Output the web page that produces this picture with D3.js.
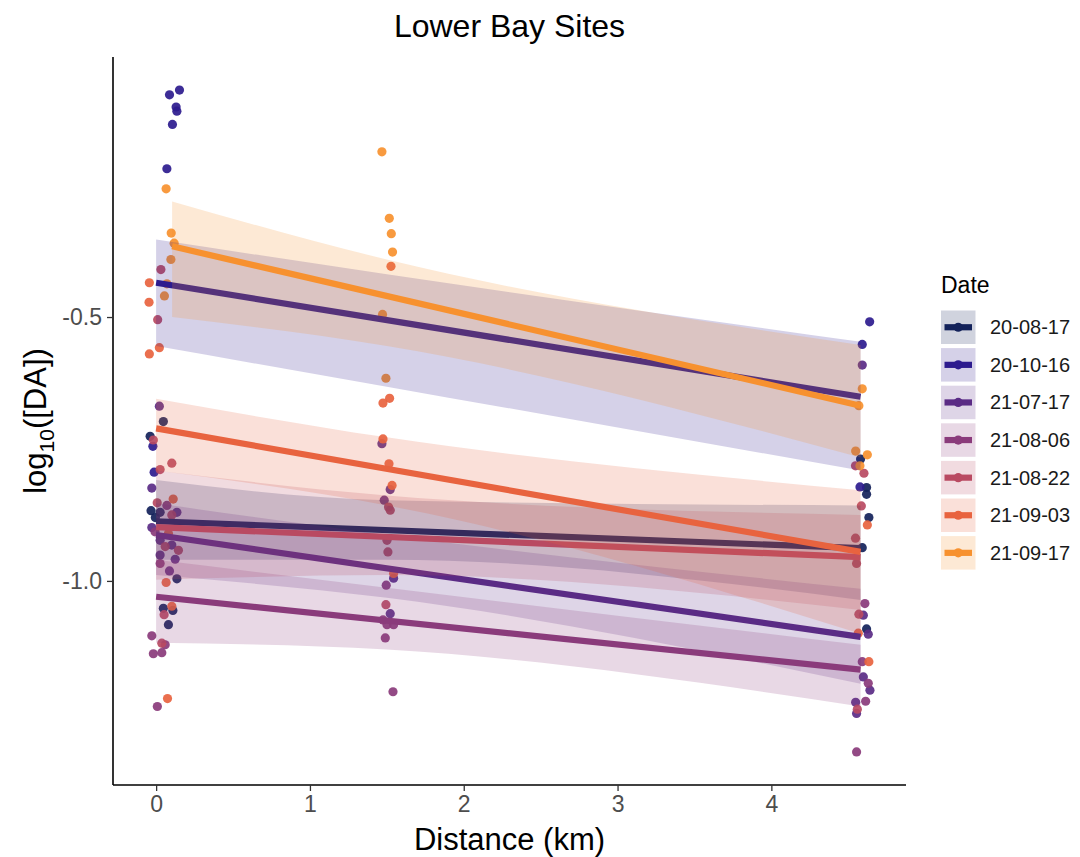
<!DOCTYPE html>
<html>
<head>
<meta charset="utf-8">
<script src="https://cdn.jsdelivr.net/npm/d3@7"></script>
<style>
  body { margin: 0; background: #fff; }
  svg { display: block; font-family: "Liberation Sans", Arial, Helvetica, sans-serif; }
</style>
</head>
<body>
<svg id="chart" width="1080" height="857"></svg>
<script>
// Sampling dates (legend order) and their colours
const dates  = ["20-08-17", "20-10-16", "21-07-17", "21-08-06", "21-08-22", "21-09-03", "21-09-17"];
const colors = ["#13225A", "#2D1B8E", "#5A2B85", "#8A3B7B", "#B94A62", "#E8633F", "#F7912F"];

// Jittered observations: [distance (km), log10([DA])]
const pts_20_08_17 = [[-0.039,-0.726],[0.047,-0.698],[-0.033,-0.867],[0.026,-0.870],[-0.005,-0.880],
  [0.135,-0.996],[0.047,-1.052],[0.109,-1.056],[0.080,-1.083],
  [4.580,-0.769],[4.619,-0.823],[4.619,-0.836],[4.634,-0.880],[4.591,-0.937],[4.619,-1.091]];
const pts_20_10_16 = [[0.087,-0.079],[0.152,-0.070],[0.130,-0.102],[0.135,-0.110],[0.106,-0.135],
  [0.070,-0.219],[-0.021,-0.745],[-0.013,-0.794],
  [4.639,-0.509],[4.591,-0.552],[4.576,-0.822]];
const pts_21_07_17 = [[0.021,-0.669],[-0.028,-0.824],[0.135,-0.870],[-0.028,-0.899],[0.026,-0.923],
  [0.102,-0.932],[0.026,-0.951],[0.124,-0.959],[0.087,-0.981],
  [1.468,-0.740],[1.522,-0.827],[1.483,-0.847],[1.544,-0.995],[1.522,-1.062],
  [4.591,-0.591],[4.598,-1.065],[4.630,-1.101],[4.598,-1.182],[4.641,-1.207],[4.548,-1.230],[4.554,-1.251]];
const pts_21_08_06 = [[0.070,-0.857],[-0.007,-0.907],[0.026,-0.967],[-0.028,-1.104],[0.059,-1.121],
  [-0.018,-1.138],[0.037,-1.136],[0.008,-1.238],
  [1.496,-1.008],[1.475,-1.074],[1.501,-1.083],[1.544,-1.083],[1.490,-1.108],[1.540,-1.210],
  [4.608,-1.043],[4.591,-1.153],[4.630,-1.194],[4.613,-1.228],[4.554,-1.324]];
const pts_21_08_22 = [[0.031,-0.410],[0.010,-0.505],[-0.018,-0.733],[0.102,-0.777],[0.026,-0.789],
  [0.007,-0.852],[0.102,-0.875],[0.059,-0.935],[0.145,-0.942],[0.052,-1.064],[0.037,-1.118],
  [1.511,-0.860],[1.522,-0.866],[1.501,-0.923],[1.507,-0.945],[1.494,-1.045],
  [4.547,-0.782],[4.602,-0.796],[4.585,-0.858],[4.547,-0.919],[4.554,-0.967],[4.569,-1.063],[4.559,-1.243]];
const pts_21_09_03 = [[-0.044,-0.435],[-0.046,-0.472],[0.021,-0.558],[-0.044,-0.570],[0.111,-0.845],
  [0.080,-0.910],[0.065,-1.003],[0.102,-1.048],[0.074,-1.223],
  [1.527,-0.404],[1.518,-0.654],[1.475,-0.663],[1.475,-0.731],[1.514,-0.778],[1.534,-0.819],[1.544,-0.986],
  [4.624,-0.894],[4.565,-1.099],[4.634,-1.153]];
const pts_21_09_17 = [[0.065,-0.257],[0.098,-0.341],[0.117,-0.360],[0.096,-0.391],[0.070,-0.437],[0.054,-0.460],
  [1.468,-0.187],[1.516,-0.313],[1.529,-0.342],[1.537,-0.377],[1.472,-0.495],[1.494,-0.616],
  [4.591,-0.636],[4.569,-0.668],[4.548,-0.754],[4.624,-0.761],[4.576,-0.782]];
const points = [pts_20_08_17, pts_20_10_16, pts_21_07_17, pts_21_08_06, pts_21_08_22, pts_21_09_03, pts_21_09_17];

// Linear fits per date: fitted value at first and last station
const fitStartX = [0, 0, 0, 0, 0, 0, 0.104];
const fitEndX   = [4.58, 4.58, 4.58, 4.58, 4.58, 4.58, 4.58];
const fitStartY = [-0.887, -0.435, -0.913, -1.030, -0.898, -0.711, -0.366];
const fitEndY   = [-0.938, -0.651, -1.106, -1.168, -0.955, -0.945, -0.668];

// 95% confidence band, sampled at first station, 1.5 km and last station
const bandMidX = 1.5;
const bandUpper = [[-0.809,-0.847,-0.857],[-0.353,-0.419,-0.547],[-0.853,-0.913,-1.015],[-0.960,-1.013,-1.121],
                   [-0.791,-0.838,-0.875],[-0.655,-0.728,-0.828],[-0.281,-0.391,-0.553]];
const bandLower = [[-0.960,-0.960,-1.036],[-0.555,-0.632,-0.791],[-0.989,-1.032,-1.195],[-1.117,-1.130,-1.238],
                   [-0.998,-0.989,-1.055],[-0.791,-0.857,-1.100],[-0.500,-0.555,-0.766]];

const xTicks = [0, 1, 2, 3, 4];
const yTicks = [-1.0, -0.5];

const panel = { left: 113, right: 906, top: 57, bottom: 785 };
const svg = d3.select("#chart");

// Scales expanded by 5% of the data range on each side
const allPts = points.flat();
const expand = ext => { const p = (ext[1] - ext[0]) * 0.05; return [ext[0] - p, ext[1] + p]; };
const yVals = allPts.map(d => d[1]).concat(bandUpper.flat(), bandLower.flat());
const x = d3.scaleLinear().domain(expand(d3.extent(allPts, d => d[0]))).range([panel.left, panel.right]);
const y = d3.scaleLinear().domain(expand(d3.extent(yVals))).range([panel.bottom, panel.top]);

// Points (drawn beneath the fitted lines and bands)
const gPts = svg.append("g");
points.forEach((series, i) => {
  gPts.selectAll(null).data(series).join("circle")
    .attr("cx", d => x(d[0])).attr("cy", d => y(d[1])).attr("r", 4.6)
    .attr("fill", colors[i]).attr("fill-opacity", 0.92);
});

// Confidence bands and fitted lines, one date at a time
const area = d3.area().x(d => x(d.x)).y0(d => y(d.lo)).y1(d => y(d.hi)).curve(d3.curveMonotoneX);
const gFit = svg.append("g");
dates.forEach((dt, i) => {
  const knots = [fitStartX[i], bandMidX, fitEndX[i]].map((xv, k) => ({ x: xv, lo: bandLower[i][k], hi: bandUpper[i][k] }));
  gFit.append("path").datum(knots).attr("d", area).attr("fill", colors[i]).attr("fill-opacity", 0.2);
  gFit.append("line")
    .attr("x1", x(fitStartX[i])).attr("y1", y(fitStartY[i]))
    .attr("x2", x(fitEndX[i])).attr("y2", y(fitEndY[i]))
    .attr("stroke", colors[i]).attr("stroke-width", 6.2);
});

// Axes
const xAxis = svg.append("g").attr("transform", `translate(0,${panel.bottom})`)
  .call(d3.axisBottom(x).tickValues(xTicks).tickFormat(d3.format("d")).tickSize(6).tickSizeOuter(0).tickPadding(5));
const yAxis = svg.append("g").attr("transform", `translate(${panel.left},0)`)
  .call(d3.axisLeft(y).tickValues(yTicks).tickFormat(d3.format(".1f")).tickSize(6).tickSizeOuter(0).tickPadding(5));
[xAxis, yAxis].forEach(g => {
  g.select(".domain").attr("stroke", "#000").attr("stroke-width", 1.6);
  g.selectAll(".tick line").attr("stroke", "#333").attr("stroke-width", 1.3);
  g.selectAll(".tick text").attr("fill", "#4D4D4D").style("font-size", "23px")
    .style("font-family", "'Liberation Sans', Arial, Helvetica, sans-serif");
});
xAxis.select(".domain").attr("d", `M${panel.left},0H${panel.right}`);
yAxis.select(".domain").attr("d", `M0,${panel.top}V${panel.bottom}`);
yAxis.selectAll(".tick text").text(d => d3.format(".1f")(d).replace("−", "-"));

// Titles
const midX = (panel.left + panel.right) / 2;
svg.append("text").attr("x", midX).attr("y", 37).attr("text-anchor", "middle")
  .style("font-size", "32px").attr("fill", "#000").text("Lower Bay Sites");
svg.append("text").attr("x", midX).attr("y", 850).attr("text-anchor", "middle")
  .style("font-size", "31px").attr("fill", "#000").text("Distance (km)");
const yt = svg.append("text")
  .attr("transform", `translate(46,${(panel.top + panel.bottom) / 2}) rotate(-90)`)
  .attr("text-anchor", "middle").style("font-size", "31px").attr("fill", "#000");
yt.append("tspan").text("log");
yt.append("tspan").attr("dy", 8).style("font-size", "21px").text("10");
yt.append("tspan").attr("dy", -8).text("([DA])");

// Legend
const lg = svg.append("g").attr("transform", "translate(941,0)");
lg.append("text").attr("x", 0).attr("y", 293).style("font-size", "23px").attr("fill", "#000").text("Date");
const rows = lg.selectAll("g.row").data(dates).join("g").attr("class", "row")
  .attr("transform", (d, i) => `translate(0,${310.5 + i * 37.6})`);
rows.append("rect").attr("width", 34.5).attr("height", 33.5)
  .attr("fill", (d, i) => colors[i]).attr("fill-opacity", 0.2);
rows.append("line").attr("x1", 3.5).attr("x2", 31).attr("y1", 16.75).attr("y2", 16.75)
  .attr("stroke", (d, i) => colors[i]).attr("stroke-width", 6.2);
rows.append("circle").attr("cx", 17.25).attr("cy", 16.75).attr("r", 4.6).attr("fill", (d, i) => colors[i]);
rows.append("text").attr("x", 49).attr("y", 16.75).attr("dy", "0.35em")
  .style("font-size", "20px").attr("fill", "#1a1a1a").text(d => d);
</script>
</body>
</html>
